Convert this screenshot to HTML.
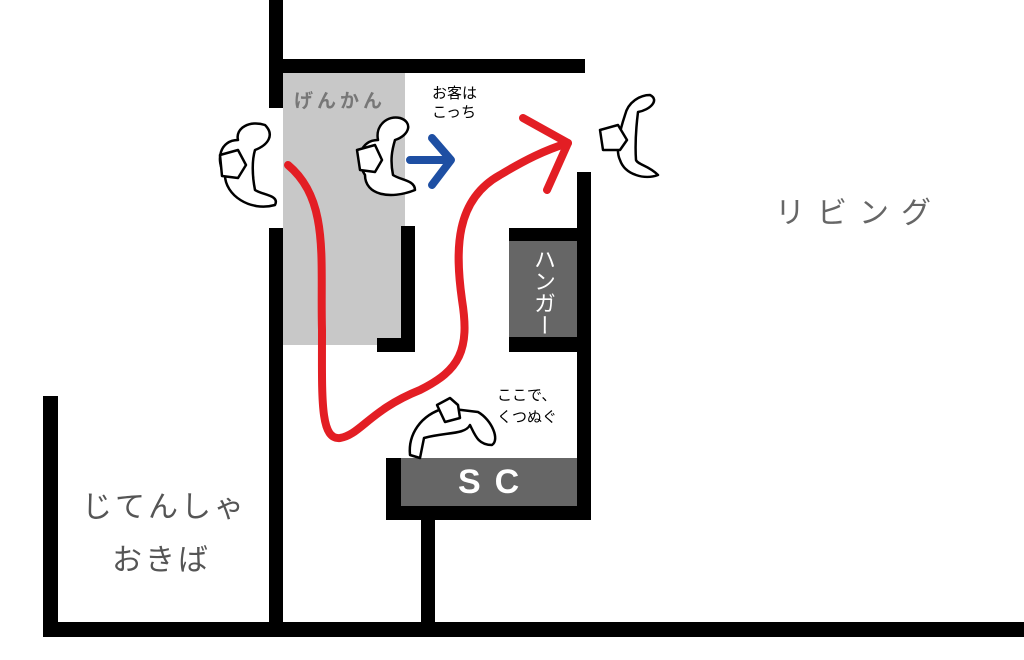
<!DOCTYPE html>
<html><head><meta charset="utf-8"><style>
html,body{margin:0;padding:0;background:#fff}
body{width:1024px;height:660px;position:relative;overflow:hidden;font-family:"Liberation Sans","Noto Sans CJK JP",sans-serif}
.b{position:absolute;background:#000}
.t{position:absolute;white-space:nowrap}
</style></head><body>
<div style="position:absolute;left:283px;top:73px;width:122px;height:272px;background:#c8c8c8"></div>
<div class="b" style="left:269px;top:0;width:14px;height:108px"></div>
<div class="b" style="left:269px;top:228px;width:14px;height:408px"></div>
<div class="b" style="left:269px;top:59px;width:316px;height:14px"></div>
<div class="b" style="left:43px;top:396px;width:15px;height:240px"></div>
<div class="b" style="left:43px;top:622px;width:981px;height:15px"></div>
<div class="b" style="left:401px;top:226px;width:14px;height:126px"></div>
<div class="b" style="left:377px;top:338px;width:38px;height:14px"></div>
<div class="b" style="left:577px;top:172px;width:14px;height:348px"></div>
<div class="b" style="left:509px;top:228px;width:70px;height:124px"></div>
<div style="position:absolute;left:509px;top:241px;width:68px;height:96px;background:#666"></div>
<div class="b" style="left:386px;top:458px;width:205px;height:62px"></div>
<div style="position:absolute;left:401px;top:458px;width:176px;height:48px;background:#666"></div>
<div class="b" style="left:421px;top:520px;width:14px;height:116px"></div>
<div class="t" style="left:294px;top:86px;font-size:19px;color:#777;letter-spacing:4px;font-weight:bold">げんかん</div>
<div class="t" style="left:432px;top:84px;font-size:15px;line-height:19px;color:#000">お客は<br>こっち</div>
<div class="t" style="left:775px;top:188px;font-size:30px;color:#666;letter-spacing:12px">リビング</div>
<div class="t" style="left:82px;top:482px;font-size:30px;color:#555;letter-spacing:3px">じてんしゃ</div>
<div class="t" style="left:112px;top:535px;font-size:30px;color:#555;letter-spacing:3px">おきば</div>
<div class="t" style="left:532px;top:248px;font-size:22px;color:#fff;writing-mode:vertical-rl;line-height:22px">ハンガー</div>
<div class="t" style="left:458px;top:463px;font-size:34px;color:#fff;font-weight:bold;letter-spacing:14px">SC</div>
<div class="t" style="left:497px;top:385px;font-size:15px;line-height:22px;color:#000">ここで、<br>くつぬぐ</div>
<svg width="1024" height="660" style="position:absolute;left:0;top:0" fill="none" stroke-linecap="round" stroke-linejoin="round">
<path d="M288 165 C330 200 320 260 322 330 C322 400 320 440 340 438 C360 435 370 410 420 390 C460 370 470 350 462 300 C455 250 455 200 500 175 C525 160 545 150 568 143" stroke="#e31e24" stroke-width="8"/>
<path d="M523 118 L568 143 L547 190" stroke="#e31e24" stroke-width="8"/>
<path d="M410 160 L448 160 M432 138 L451 160 L432 185" stroke="#1e4fa3" stroke-width="8"/>
<g stroke="#000" stroke-width="2.5" fill="#fff">
<path d="M238 140 C220 140 215 160 225 175 C225 195 250 212 275 205 C280 195 262 195 255 190 C252 175 252 160 255 150 C268 145 275 135 265 125 C250 120 235 128 238 140Z"/>
<path d="M220 155 L238 150 L246 165 L238 178 L222 176 Z"/>
<path d="M378 140 C360 140 355 160 365 175 C365 195 390 200 415 190 C415 180 400 180 393 175 C390 160 392 150 395 140 C410 135 413 122 400 118 C388 115 375 125 378 140Z"/>
<path d="M357 150 L375 145 L382 160 L375 172 L360 170 Z"/>
<path d="M625 115 C620 130 615 150 620 160 C625 175 645 180 658 175 C648 165 638 165 636 160 C635 145 636 128 638 112 C650 110 660 100 650 95 C640 95 628 102 625 115Z"/>
<path d="M600 130 L618 125 L627 140 L620 150 L603 150 Z"/>
<path d="M445 408 C420 415 408 435 410 455 L420 458 L424 438 C445 432 465 435 470 425 C475 435 478 445 492 445 C500 440 492 420 478 412 Z"/>
<path d="M437 405 L450 398 L458 405 L460 418 L445 422 Z"/>
</g>
</svg>
</body></html>
